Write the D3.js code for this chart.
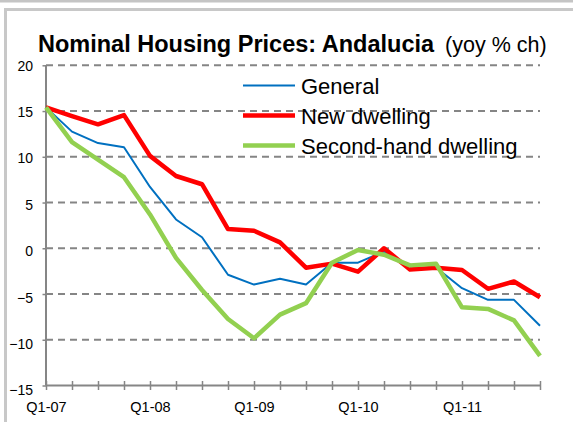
<!DOCTYPE html>
<html>
<head>
<meta charset="utf-8">
<script src="https://cdn.jsdelivr.net/npm/d3@7"></script>
<style>
  html, body { margin: 0; padding: 0; background: #fff; }
  svg { display: block; font-family: "Liberation Sans", Arial, sans-serif; }
</style>
</head>
<body>
<div id="chart"></div>
<script>
// Quarterly year-on-year change in nominal housing prices, Andalucia
const quarters = [
  "Q1-07","Q2-07","Q3-07","Q4-07",
  "Q1-08","Q2-08","Q3-08","Q4-08",
  "Q1-09","Q2-09","Q3-09","Q4-09",
  "Q1-10","Q2-10","Q3-10","Q4-10",
  "Q1-11","Q2-11","Q3-11","Q4-11"
];
const general = [15.4, 12.75, 11.5, 11.05, 6.7, 3.15, 1.2, -2.9, -3.97, -3.33,
                 -3.96, -1.58, -1.57, -0.35, -2.2, -2.1, -4.36, -5.64, -5.64, -8.46];
const newDwelling = [15.4, 14.45, 13.55, 14.55, 10.1, 7.9, 7.0, 2.1, 1.92, 0.65,
                     -2.12, -1.68, -2.56, 0.0, -2.31, -2.12, -2.38, -4.43, -3.63, -5.35];
const secondHand = [15.4, 11.6, 9.7, 7.77, 3.7, -1.05, -4.56, -7.73, -9.84, -7.25,
                    -6.0, -1.58, -0.18, -0.7, -1.87, -1.68, -6.45, -6.63, -7.88, -11.76];
const yTicks = [20, 15, 10, 5, 0, -5, -10, -15];
const xLabelQuarters = ["Q1-07", "Q1-08", "Q1-09", "Q1-10", "Q1-11"];
const seriesNames = ["General", "New dwelling", "Second-hand dwelling"];

const W = 573, H = 422;
const svg = d3.select("#chart").append("svg").attr("width", W).attr("height", H);

// outer frame
svg.append("rect").attr("x", 0).attr("y", 0).attr("width", W).attr("height", 2.5).attr("fill", "#c4c4c4");
svg.append("rect").attr("x", 5.5).attr("y", 9.5).attr("width", 700).attr("height", 700)
  .attr("fill", "#fff").attr("stroke", "#c8c8c8").attr("stroke-width", 3);

const plot = { left: 46, right: 540, top: 65.3, bottom: 385.5 };

const x = d3.scalePoint().domain(quarters).range([plot.left, plot.right]);
const y = d3.scaleLinear().domain([-15, 20]).range([plot.bottom, plot.top]);

// dashed horizontal gridlines
svg.append("g").selectAll("line")
  .data(yTicks.filter(v => v > -15))
  .join("line")
  .attr("x1", plot.left).attr("x2", plot.right)
  .attr("y1", d => y(d)).attr("y2", d => y(d))
  .attr("stroke", "#858585").attr("stroke-width", 2)
  .attr("stroke-dasharray", "7,5");

const axisColor = "#868686";

// y axis
const yAxis = svg.append("g")
  .attr("transform", `translate(${plot.left},0)`)
  .call(d3.axisLeft(y).tickValues(yTicks).tickSize(3.5).tickFormat(d3.format("d")));
yAxis.select(".domain").attr("stroke", axisColor).attr("stroke-width", 2)
  .attr("d", `M0,${plot.top}V${plot.bottom}`);
yAxis.selectAll(".tick line").attr("stroke", axisColor).attr("stroke-width", 1.5);
yAxis.selectAll(".tick text")
  .attr("x", -13).attr("dy", d => (0.34 + (20 - d) * 0.0095) + "em")
  .attr("font-size", 14).attr("fill", "#000")
  .attr("font-family", "'Liberation Sans', Arial, sans-serif");

// x axis with crossing tick marks
const xAxis = svg.append("g")
  .attr("transform", `translate(0,${plot.bottom})`)
  .call(d3.axisBottom(x).tickSize(4.5).tickSizeOuter(0)
    .tickFormat(d => xLabelQuarters.includes(d) ? d : ""));
xAxis.select(".domain").attr("stroke", axisColor).attr("stroke-width", 2)
  .attr("d", `M${plot.left},0H${plot.right}`);
xAxis.selectAll(".tick line").attr("stroke", axisColor).attr("stroke-width", 1.5).attr("y1", -4.5);
xAxis.selectAll(".tick text")
  .attr("y", 16).attr("dy", "0.71em")
  .attr("font-size", 14.5).attr("fill", "#000")
  .attr("font-family", "'Liberation Sans', Arial, sans-serif");

// series lines
const series = [
  { name: seriesNames[0], values: general, color: "#0070C0", width: 2 },
  { name: seriesNames[1], values: newDwelling, color: "#FF0000", width: 4.5 },
  { name: seriesNames[2], values: secondHand, color: "#92D050", width: 4.5 }
];
const line = d3.line().x((d, i) => x(quarters[i])).y(d => y(d));
svg.append("g").selectAll("path")
  .data(series)
  .join("path")
  .attr("d", d => line(d.values))
  .attr("fill", "none")
  .attr("stroke", d => d.color)
  .attr("stroke-width", d => d.width)
  .attr("stroke-linejoin", "round");

// legend
const legend = svg.append("g").attr("transform", "translate(243,94)");
const rows = legend.selectAll("g").data(series).join("g")
  .attr("transform", (d, i) => `translate(0,${i * 30})`);
rows.append("line")
  .attr("x1", 0).attr("x2", 52).attr("y1", -8.5).attr("y2", -8.5)
  .attr("stroke", d => d.color).attr("stroke-width", d => d.width);
rows.append("text")
  .attr("x", 58).attr("y", 0)
  .attr("font-size", 22).attr("fill", "#000")
  .text(d => d.name);

// title
const title = svg.append("text")
  .attr("x", 38).attr("y", 51.5)
  .attr("font-size", 23.5).attr("font-weight", "bold").attr("fill", "#000")
  .text("Nominal Housing Prices: Andalucia");
const tEnd = 38 + title.node().getComputedTextLength();
svg.append("text")
  .attr("x", tEnd + 11).attr("y", 51.5)
  .attr("font-size", 21.5).attr("fill", "#000")
  .text("(yoy % ch)");
</script>
</body>
</html>
